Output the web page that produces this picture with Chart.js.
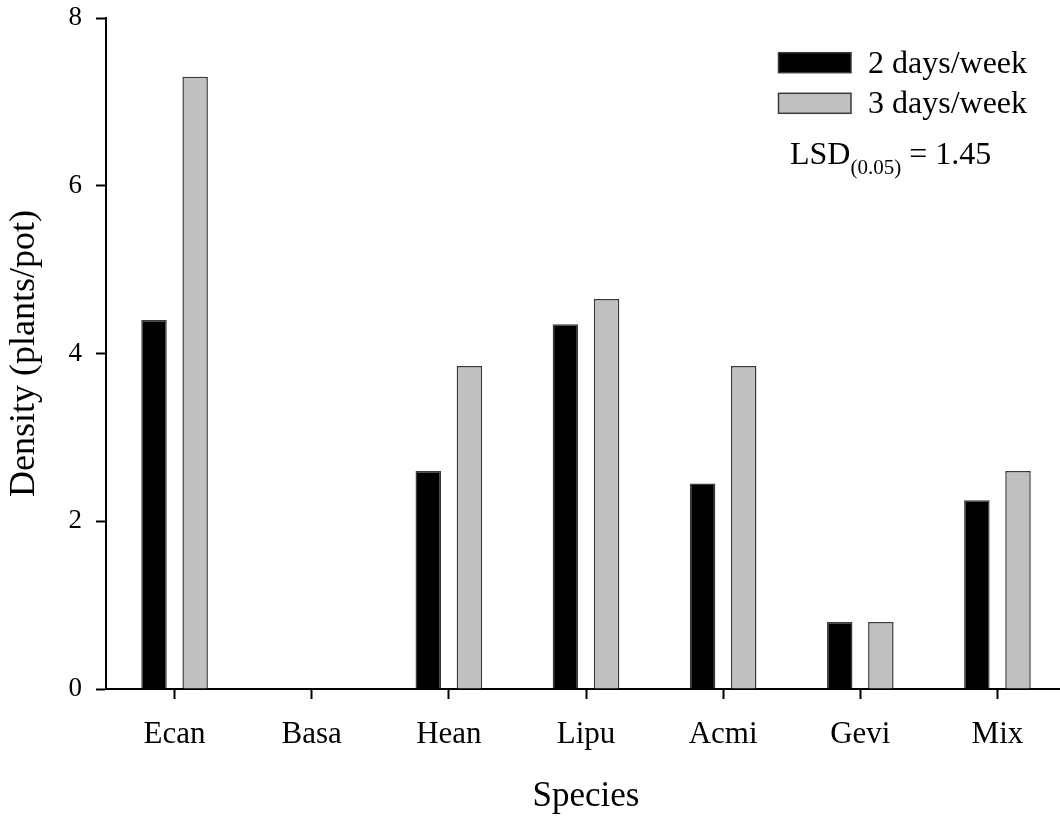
<!DOCTYPE html>
<html>
<head>
<meta charset="utf-8">
<script src="https://cdn.jsdelivr.net/npm/chart.js@4.4.0/dist/chart.umd.min.js"></script>
<style>
    html, body { margin: 0; padding: 0; background: #fff; overflow: hidden; }
    #wrap { position: relative; width: 1068px; height: 818px; }
</style>
</head>
<body>
<div id="wrap"><canvas id="chart"></canvas></div>
<script>
const species = ['Ecan', 'Basa', 'Hean', 'Lipu', 'Acmi', 'Gevi', 'Mix'];
const twoDays = [4.40, 0, 2.60, 4.35, 2.45, 0.80, 2.25];
const threeDays = [7.30, 0, 3.85, 4.65, 3.85, 0.80, 2.60];
const seriesLabels = ['2 days/week', '3 days/week'];
const yTicks = [0, 2, 4, 6, 8];
const lsdLevel = '(0.05)';
const lsdValue = 1.45;

const SERIF = '"Liberation Serif", "Times New Roman", serif';

// legend + LSD note drawn in the upper right corner of the plot
const cornerLegend = {
    id: 'cornerLegend',
    afterDraw(chart) {
        const ctx = chart.ctx;
        const boxX = 778.5, boxW = 72.5, boxH = 20;
        const rowsTop = [52.7, 93.3];
        ctx.save();
        chart.data.datasets.forEach((ds, i) => {
            const y = rowsTop[i];
            ctx.fillStyle = ds.backgroundColor;
            ctx.fillRect(boxX, y, boxW, boxH);
            ctx.lineWidth = 1.5;
            ctx.strokeStyle = ds.borderColor;
            ctx.strokeRect(boxX, y, boxW, boxH);
            ctx.fillStyle = '#000';
            ctx.font = '32px ' + SERIF;
            ctx.textBaseline = 'alphabetic';
            ctx.fillText(ds.label, 868, y + boxH);
        });

        let x = 790;
        const base = 163.5;
        ctx.font = '32px ' + SERIF;
        ctx.fillText('LSD', x, base);
        x += ctx.measureText('LSD').width;
        ctx.font = '21px ' + SERIF;
        ctx.fillText(lsdLevel, x, base + 10);
        x += ctx.measureText(lsdLevel).width;
        ctx.font = '32px ' + SERIF;
        ctx.fillText(' = ' + lsdValue.toFixed(2), x, base);
        ctx.restore();
    },
};

new Chart(document.getElementById('chart'), {
    type: 'bar',
    data: {
        labels: species,
        datasets: [
            {
                label: seriesLabels[0],
                data: twoDays,
                backgroundColor: '#000000',
                borderColor: '#3a3a3a',
                borderWidth: 1.5,
            },
            {
                label: seriesLabels[1],
                data: threeDays,
                backgroundColor: '#c0c0c0',
                borderColor: '#3a3a3a',
                borderWidth: 1.5,
            },
        ],
    },
    options: {
        responsive: true,
        maintainAspectRatio: false,
        animation: false,
        events: [],
        categoryPercentage: 0.6,
        barPercentage: 0.62,
        layout: {
            padding: { top: 18, right: 2, left: 0, bottom: 0 },
        },
        plugins: {
            legend: { display: false },
            tooltip: { enabled: false },
        },
        scales: {
            x: {
                afterFit: (scale) => { scale.height = 129; },
                grid: {
                    offset: false,
                    drawOnChartArea: false,
                    drawTicks: true,
                    tickLength: 10,
                    tickWidth: 2,
                    color: '#000',
                },
                border: { display: true, color: '#000', width: 2 },
                ticks: {
                    color: '#000',
                    padding: 17,
                    maxRotation: 0,
                    font: { family: SERIF, size: 31 },
                },
                title: {
                    display: true,
                    text: 'Species',
                    color: '#000',
                    padding: 0,
                    font: { family: SERIF, size: 35 },
                },
            },
            y: {
                min: yTicks[0],
                max: yTicks[yTicks.length - 1],
                afterFit: (scale) => {
                    scale.width = 106;
                    scale.paddingTop = 0;
                    scale.paddingBottom = 0;
                },
                afterBuildTicks: (scale) => {
                    scale.ticks = yTicks.map(v => ({ value: v }));
                },
                grid: {
                    drawOnChartArea: false,
                    drawTicks: true,
                    tickLength: 10,
                    tickWidth: 2,
                    color: '#000',
                },
                border: { display: true, color: '#000', width: 2 },
                ticks: {
                    color: '#000',
                    padding: 14,
                    font: { family: SERIF, size: 27 },
                },
                title: {
                    display: true,
                    text: 'Density (plants/pot)',
                    color: '#000',
                    padding: { top: 3, bottom: 0 },
                    font: { family: SERIF, size: 36 },
                },
            },
        },
    },
    plugins: [cornerLegend],
});
</script>
</body>
</html>
